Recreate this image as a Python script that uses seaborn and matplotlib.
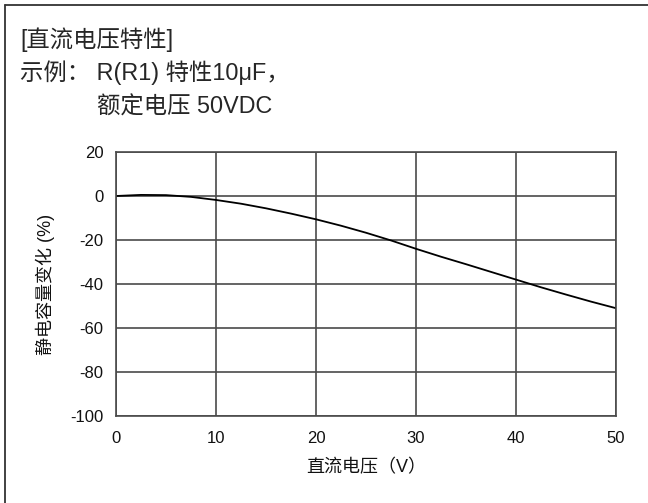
import matplotlib
matplotlib.use("Agg")
import matplotlib.pyplot as plt
from matplotlib.lines import Line2D
import seaborn as sns
import pandas as pd

# DC bias characteristic
voltage = [0, 2.5, 5, 7.5, 10, 12.5, 15, 17.5, 20, 22.5, 25, 27.5, 30,
           32.5, 35, 37.5, 40, 42.5, 45, 47.5, 50]
cap_change = [0, 0.5, 0.4, -0.4, -1.8, -3.5, -5.6, -8.0, -10.6, -13.5, -16.7,
              -20.2, -24.0, -27.6, -31.0, -34.5, -38.0, -41.5, -44.8, -48.0, -51.0]
x_ticks = [0, 10, 20, 30, 40, 50]
y_ticks = [20, 0, -20, -40, -60, -80, -100]

title_lines = ["[直流电压特性]", "示例： R(R1) 特性10μF，", "额定电压 50VDC"]
x_label = "直流电压（V）"
y_label = "静电容量变化 (%)"

df = pd.DataFrame({"v": voltage, "c": cap_change})

sns.set_style("white")
plt.rcParams["font.family"] = ["Liberation Sans", "Noto Sans CJK SC", "DejaVu Sans"]
plt.rcParams["axes.unicode_minus"] = False

fig = plt.figure(figsize=(6.48, 5.03), dpi=100)
ax = fig.add_axes([116 / 648, 1 - 416 / 503, 500 / 648, 264 / 503])

sns.lineplot(data=df, x="v", y="c", ax=ax, color="black", linewidth=1.3)

ax.set_xlim(0, 50)
ax.set_ylim(-100, 20)
ax.set_xticks(x_ticks)
ax.set_yticks(y_ticks)
ax.tick_params(length=0, labelsize=12, colors="#111111")
ax.tick_params(axis="x", pad=11)
ax.tick_params(axis="y", pad=9)
ax.grid(True, color="#4a4a4a", linewidth=1.2)
for sp in ax.spines.values():
    sp.set_color("#4a4a4a")
    sp.set_linewidth(1.2)

ax.set_xlabel(x_label, fontsize=13, labelpad=9, color="#111111")
ax.set_ylabel(y_label, fontsize=13, labelpad=11, color="#111111")

# header text
fig.text(20 / 648, 1 - 40 / 503, title_lines[0], fontsize=16.8, va="center", ha="left")
fig.text(20 / 648, 1 - 73 / 503, title_lines[1], fontsize=16.8, va="center", ha="left")
fig.text(97 / 648, 1 - 107 / 503, title_lines[2], fontsize=16.8, va="center", ha="left")

# frame lines (top and left only in view)
fig.add_artist(Line2D([5 / 648, 1.0], [1 - 4.5 / 503, 1 - 4.5 / 503],
                      transform=fig.transFigure, color="#333333", linewidth=1.3))
fig.add_artist(Line2D([5 / 648, 5 / 648], [0.0, 1 - 4.5 / 503],
                      transform=fig.transFigure, color="#333333", linewidth=1.3))

fig.savefig("out.png", dpi=100)
